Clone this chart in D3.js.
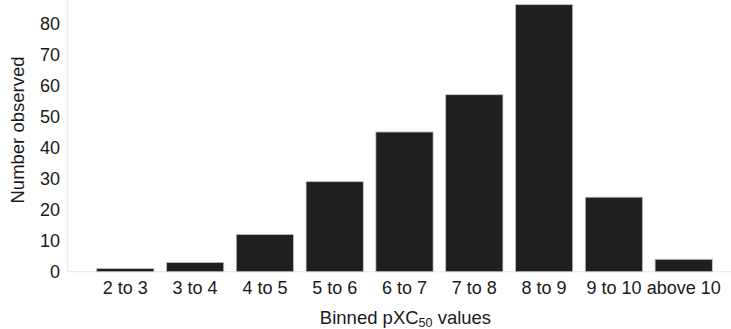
<!DOCTYPE html>
<html>
<head>
<meta charset="utf-8">
<script src="https://cdn.jsdelivr.net/npm/d3@7"></script>
<style>
  html, body { margin: 0; padding: 0; background: #fff; }
  svg { display: block; font-family: "Liberation Sans", Arial, Helvetica, sans-serif; }
</style>
</head>
<body>
<svg id="chart" width="731" height="329"></svg>
<script>
// Binned potency counts
const bins = ["2 to 3", "3 to 4", "4 to 5", "5 to 6", "6 to 7", "7 to 8", "8 to 9", "9 to 10", "above 10"];
const counts = [1, 3, 12, 29, 45, 57, 86, 24, 4];
const yTicks = [0, 10, 20, 30, 40, 50, 60, 70, 80];

const svg = d3.select("#chart");
const W = 731, H = 329;
const axisX = 67.5, baseY = 271.7;

const x = d3.scaleBand()
  .domain(bins)
  .range([90.4, 718.6])
  .paddingInner(0.18)
  .paddingOuter(0.09);

const y = d3.scaleLinear()
  .domain([0, 80])
  .range([baseY, 23.3]);

// faint axis frame
svg.append("line")
  .attr("x1", axisX).attr("x2", axisX)
  .attr("y1", 0).attr("y2", baseY)
  .attr("stroke", "#ececec").attr("stroke-width", 1.2);
svg.append("line")
  .attr("x1", axisX).attr("x2", W)
  .attr("y1", baseY).attr("y2", baseY)
  .attr("stroke", "#ececec").attr("stroke-width", 1.2);

// bars
svg.append("g")
  .selectAll("rect")
  .data(bins)
  .join("rect")
  .attr("x", d => x(d))
  .attr("width", x.bandwidth())
  .attr("y", (d, i) => y(counts[i]))
  .attr("height", (d, i) => baseY - y(counts[i]))
  .attr("fill", "#1f1f1f")
  .attr("stroke", "#c4c4c4")
  .attr("stroke-width", 0.8);

// y axis labels
const yAxis = d3.axisLeft(y).tickValues(yTicks).tickSize(0).tickPadding(0).tickFormat(d3.format("d"));
const gy = svg.append("g")
  .attr("transform", `translate(${axisX - 7.5},0)`)
  .call(yAxis);
gy.select(".domain").remove();
gy.selectAll("text")
  .attr("fill", "#1a1a1a")
  .attr("font-size", 18)
  .attr("font-family", "Liberation Sans, Arial, sans-serif");

// x axis labels
const xAxis = d3.axisBottom(x).tickSize(0).tickPadding(0);
const gx = svg.append("g")
  .attr("transform", `translate(0,${baseY + 9.5})`)
  .call(xAxis);
gx.select(".domain").remove();
gx.selectAll("text")
  .attr("fill", "#1a1a1a")
  .attr("font-size", 18)
  .attr("font-family", "Liberation Sans, Arial, sans-serif");

// axis titles
svg.append("text")
  .attr("transform", `translate(23.5,130) rotate(-90)`)
  .attr("text-anchor", "middle")
  .attr("font-size", 18.5)
  .attr("fill", "#1a1a1a")
  .text("Number observed");

const xt = svg.append("text")
  .attr("x", (x.range()[0] + x.range()[1]) / 2 + 1)
  .attr("y", 323.5)
  .attr("text-anchor", "middle")
  .attr("font-size", 18.5)
  .attr("fill", "#1a1a1a");
xt.append("tspan").text("Binned pXC");
xt.append("tspan").attr("font-size", 12.5).attr("dy", 3).text("50");
xt.append("tspan").attr("dy", -3).text(" values");
</script>
</body>
</html>
